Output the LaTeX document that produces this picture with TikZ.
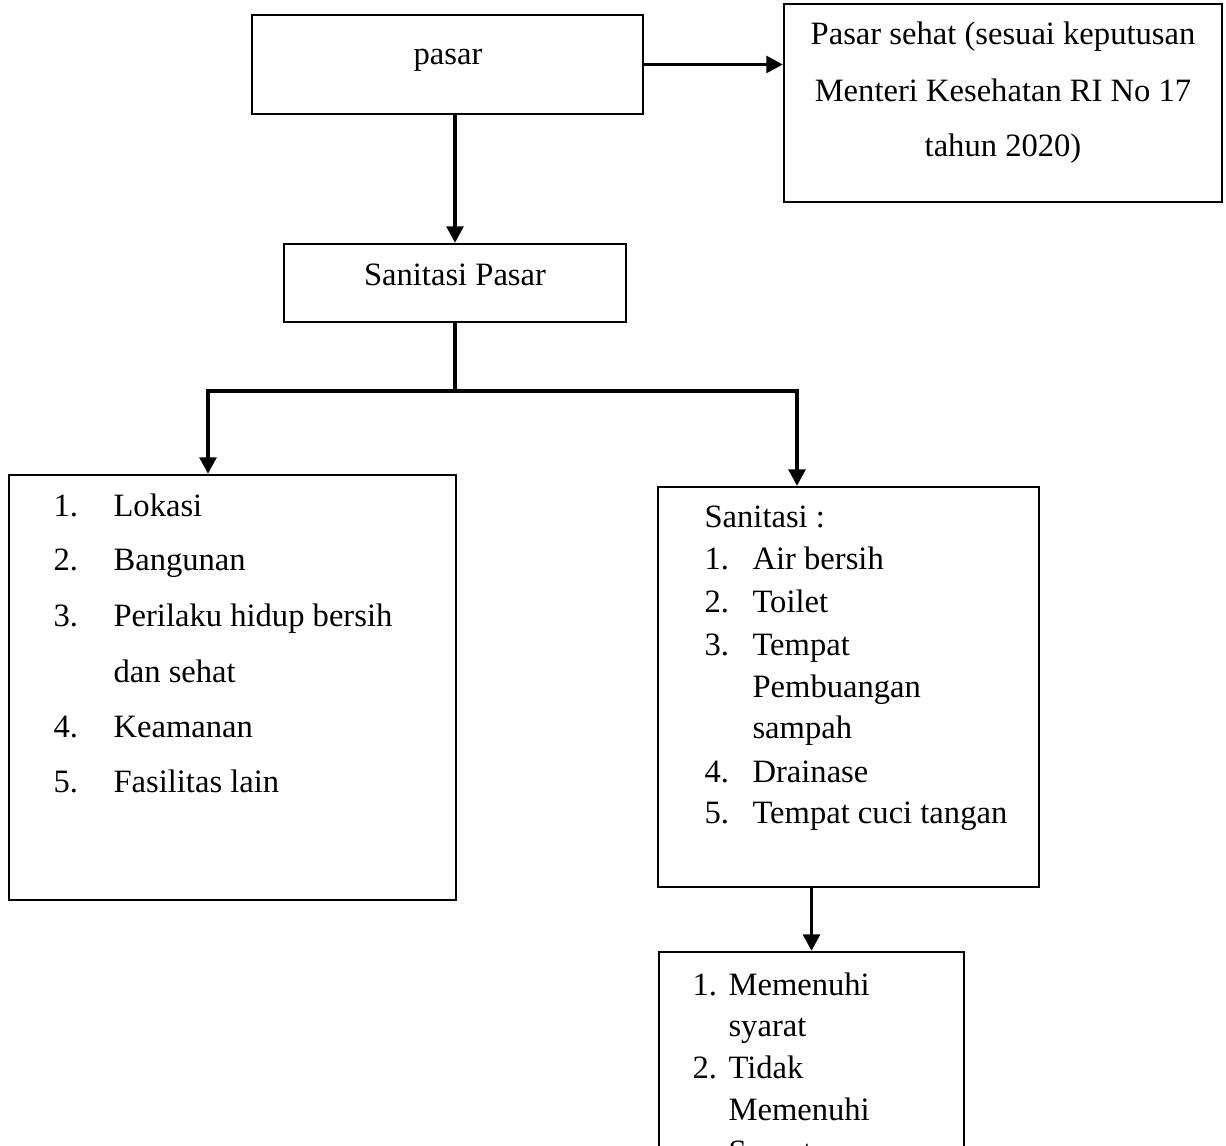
\documentclass[tikz,border=0pt]{standalone}
\usepackage{fontspec}
\setmainfont{Liberation Serif}
\usetikzlibrary{arrows.meta,fit}
\tikzset{>={Triangle[width=6pt,length=6pt]}}
\newcommand{\pxu}{0.3636}
\tikzset{
  kotak/.style={draw,line width=0.8pt,inner sep=0pt},
  teks/.style={inner sep=0pt,anchor=base west},
  tengah/.style={inner sep=0pt,anchor=base},
  panah/.style={->,line width=1.4pt},
  garis/.style={line width=1.2pt}
}

\begin{document}
\begin{tikzpicture}[x=\pxu pt,y=-\pxu pt,font=\fontsize{11.85}{14}\selectfont]
  \clip[use as bounding box] (0,0) rectangle (1226,1146);
  % kotak-kotak
  \node[kotak,fit={(252,15) (643,114)}] (pasar) {};
  \node[kotak,fit={(784,4) (1222,202)}] (sehat) {};
  \node[kotak,fit={(284,244) (626,322)}] (sanpasar) {};
  \node[kotak,fit={(9,475) (456,900)}] (kiri) {};
  \node[kotak,fit={(658,487) (1039,887)}] (kanan) {};
  \node[kotak,fit={(659,952) (964,1260)}] (bawah) {};
  % teks
  \node[tengah] (t-pasar) at (448,65) {pasar};
  \node[tengah] (t-sehat1) at (1003,45) {Pasar sehat (sesuai keputusan};
  \node[tengah] (t-sehat2) at (1003,102) {Menteri Kesehatan RI No 17};
  \node[tengah] (t-sehat3) at (1003,157) {tahun 2020)};
  \node[tengah] (t-sanpasar) at (455,285) {Sanitasi Pasar};
  \foreach \y/\no/\isi in {516/1./Lokasi, 570/2./Bangunan,
      626/3./Perilaku hidup bersih, 682//dan sehat,
      737/4./Keamanan, 792/5./Fasilitas lain} {
    \node[teks] (ki-no-\y) at (53,\y) {\no};
    \node[teks] (ki-isi-\y) at (113,\y) {\isi};
  }
  \node[teks] (t-sanitasi) at (704,527) {Sanitasi :};
  \foreach \y/\no/\isi in {569/1./Air bersih, 612/2./Toilet,
      655/3./Tempat, 697//Pembuangan, 738//sampah,
      782/4./Drainase, 823/5./Tempat cuci tangan} {
    \node[teks] (ka-no-\y) at (704,\y) {\no};
    \node[teks] (ka-isi-\y) at (752,\y) {\isi};
  }
  \foreach \y/\no/\isi in {995/1./Memenuhi, 1036//syarat,
      1078/2./Tidak, 1120//Memenuhi, 1162//Syarat} {
    \node[teks] (ba-no-\y) at (692,\y) {\no};
    \node[teks] (ba-isi-\y) at (728,\y) {\isi};
  }
  % panah
  \draw[panah] (pasar.east) -- (pasar.east -| sehat.west);
  \draw[panah] (pasar.south -| sanpasar) -- (sanpasar.north);
  \coordinate (cabang) at (455,391);
  \coordinate (ki) at (208,391);
  \coordinate (ka) at (797,391);
  \draw[garis] (sanpasar.south) -- (cabang);
  \draw[panah] (cabang) -- (ki) -- (ki |- kiri.north);
  \draw[panah] (cabang) -- (ka) -- (ka |- kanan.north);
  \draw[panah] (bawah.north |- kanan.south) -- (bawah.north);
\end{tikzpicture}
\end{document}
